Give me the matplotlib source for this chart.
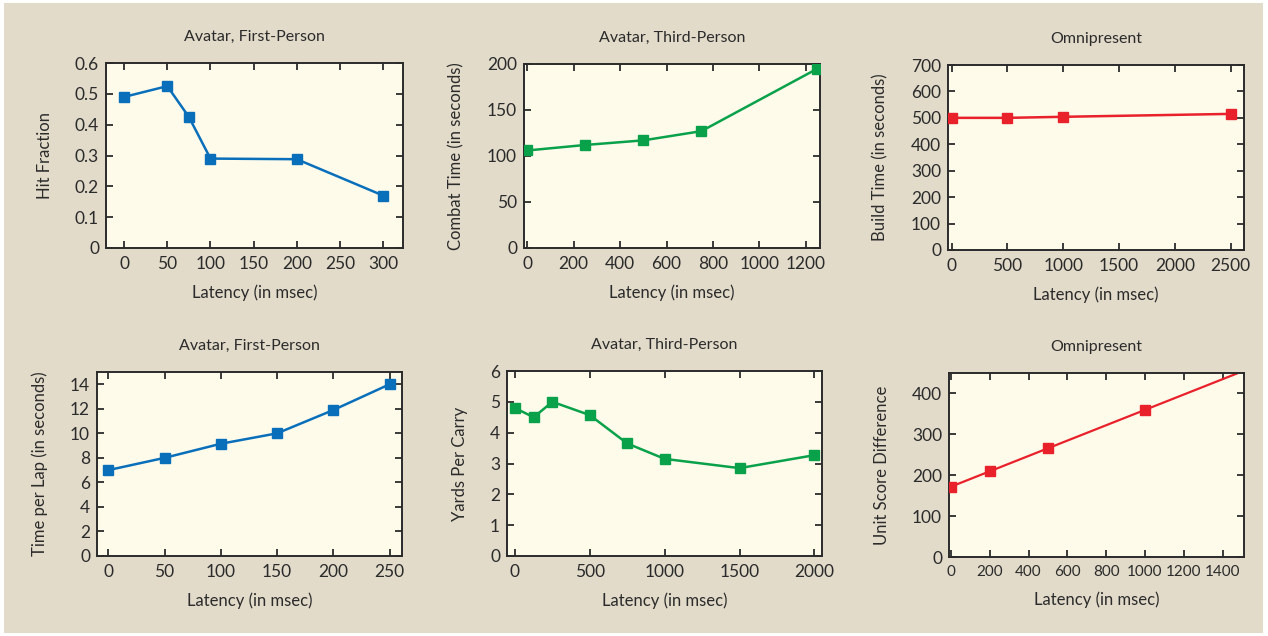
import matplotlib
matplotlib.use("Agg")
import matplotlib.pyplot as plt
from matplotlib.patches import Rectangle

plt.rcParams["font.family"] = ["Lato", "DejaVu Sans"]

# ---- data ----
fp_hit_latency = [0, 50, 75, 100, 200, 300]
fp_hit_fraction = [0.49, 0.525, 0.425, 0.29, 0.288, 0.17]

tp_combat_latency = [0, 250, 500, 750, 1250]
tp_combat_time = [106, 112, 117, 127, 195]

om_build_latency = [0, 500, 1000, 2500]
om_build_time = [500, 500, 504, 515]

fp_lap_latency = [0, 50, 100, 150, 200, 250]
fp_lap_time = [7.0, 8.0, 9.15, 10.0, 11.9, 14.0]

tp_carry_latency = [0, 125, 250, 500, 750, 1000, 1500, 2000]
tp_carry_yards = [4.8, 4.5, 5.0, 4.57, 3.65, 3.15, 2.85, 3.27]

om_score_latency = [0, 200, 500, 1000]
om_score_diff = [172, 210, 266, 360]
om_trend_latency = [0, 1480]
om_trend_diff = [172, 450]

BLUE = "#0a6fba"
GREEN = "#0aa14b"
RED = "#e8212b"
BG = "#e2dbca"
PANEL = "#fefbeb"
INK = "#2b2b2b"

W, H = 1268, 636
fig = plt.figure(figsize=(W / 100, H / 100), dpi=100, facecolor="white")
fig.patches.append(Rectangle((4 / W, 3 / H), 1259 / W, 630 / H,
                             transform=fig.transFigure, facecolor=BG,
                             edgecolor="none", zorder=-10))


def panel(px_box, title, xs, ys, color, xlim, ylim, xticks, yticks, ylabel,
          yfmt=None, extra=None, xtick_size=12.5):
    l, t, r, b = px_box
    ax = fig.add_axes([l / W, 1 - b / H, (r - l) / W, (b - t) / H])
    ax.set_facecolor(PANEL)
    if extra is not None:
        ax.plot(extra[0], extra[1], color=color, lw=1.6, zorder=2)
        ax.plot(xs, ys, color=color, lw=0, marker="s", ms=7.5, zorder=3)
    else:
        ax.plot(xs, ys, color=color, lw=1.8, marker="s", ms=7.5, zorder=3)
    ax.set_xlim(*xlim)
    ax.set_ylim(*ylim)
    ax.set_xticks(xticks)
    ax.set_yticks(yticks)
    if yfmt:
        ax.set_yticklabels([yfmt(v) for v in yticks])
    ax.tick_params(direction="in", top=True, right=True, length=5, width=1.3,
                   color=INK, labelcolor=INK, labelsize=12.5, pad=5)
    ax.tick_params(axis="x", labelsize=xtick_size, pad=6)
    for s in ax.spines.values():
        s.set_color(INK)
        s.set_linewidth(1.4)
    ax.set_title(title, fontsize=11.5, color=INK, pad=16)
    ax.set_xlabel("Latency (in msec)", fontsize=12, color=INK, labelpad=9)
    ax.set_ylabel(ylabel, fontsize=12, color=INK, labelpad=16)
    return ax


panel((106, 63, 403, 248), "Avatar, First-Person", fp_hit_latency,
      fp_hit_fraction, BLUE, (-21, 323), (0, 0.6),
      [0, 50, 100, 150, 200, 250, 300], [0, 0.1, 0.2, 0.3, 0.4, 0.5, 0.6],
      "Hit Fraction", yfmt=lambda v: "0" if v == 0 else f"{v:.1f}")

panel((524, 64, 820, 248), "Avatar, Third-Person", tp_combat_latency,
      tp_combat_time, GREEN, (-14, 1261), (0, 200),
      [0, 200, 400, 600, 800, 1000, 1200], [0, 50, 100, 150, 200],
      "Combat Time (in seconds)")

panel((948, 65, 1244, 250), "Omnipresent", om_build_latency, om_build_time,
      RED, (-33, 2619), (0, 700), [0, 500, 1000, 1500, 2000, 2500],
      [0, 100, 200, 300, 400, 500, 600, 700], "Build Time (in seconds)")

panel((97, 372, 402, 556), "Avatar, First-Person", fp_lap_latency,
      fp_lap_time, BLUE, (-10, 261), (0, 15),
      [0, 50, 100, 150, 200, 250], [0, 2, 4, 6, 8, 10, 12, 14],
      "Time per Lap (in seconds)")

panel((507, 371, 822, 556), "Avatar, Third-Person", tp_carry_latency,
      tp_carry_yards, GREEN, (-53, 2051), (0, 6),
      [0, 500, 1000, 1500, 2000], [0, 1, 2, 3, 4, 5, 6], "Yards Per Carry")

panel((949, 373, 1244, 557), "Omnipresent", om_score_latency, om_score_diff,
      RED, (-10, 1510), (0, 450),
      [0, 200, 400, 600, 800, 1000, 1200, 1400], [0, 100, 200, 300, 400],
      "Unit Score Difference", extra=(om_trend_latency, om_trend_diff),
      xtick_size=11)

fig.savefig("out.png", dpi=100, facecolor=fig.get_facecolor())
